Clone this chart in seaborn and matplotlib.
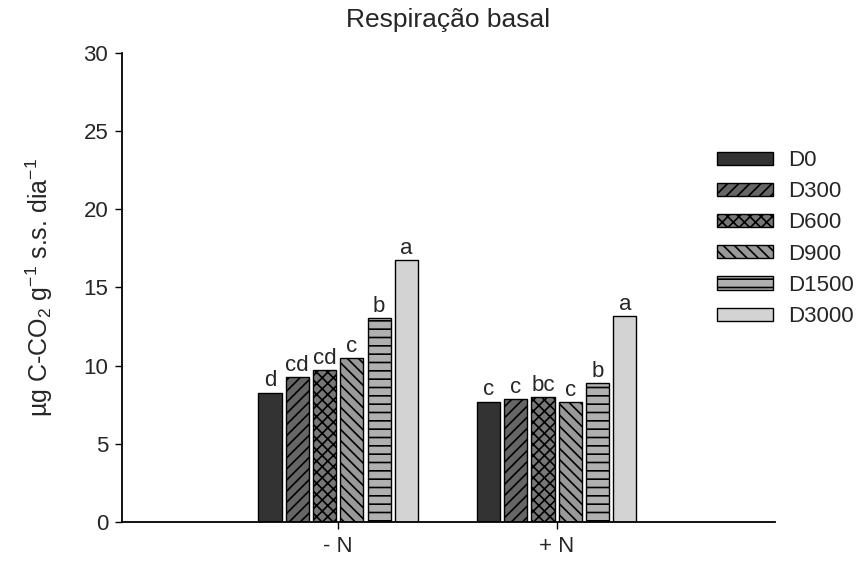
import matplotlib
matplotlib.use("Agg")
import matplotlib.pyplot as plt
import seaborn as sns
import pandas as pd

# Basal respiration by nitrogen treatment and dose
nitrogen = ["- N", "+ N"]
doses = ["D0", "D300", "D600", "D900", "D1500", "D3000"]
resp_minus_n = [8.27, 9.26, 9.72, 10.47, 13.03, 16.76]
resp_plus_n = [7.70, 7.85, 8.00, 7.68, 8.89, 13.18]
letters_minus_n = ["d", "cd", "cd", "c", "b", "a"]
letters_plus_n = ["c", "c", "bc", "c", "b", "a"]

colors = ["#333333", "#666666", "#777777", "#999999", "#b0b0b0", "#d3d3d3"]
hatches = ["", "///", "xxx", "\\\\\\", "--", ""]

rows = []
for d, v in zip(doses, resp_minus_n):
    rows.append({"N": nitrogen[0], "dose": d, "resp": v})
for d, v in zip(doses, resp_plus_n):
    rows.append({"N": nitrogen[1], "dose": d, "resp": v})
df = pd.DataFrame(rows)

sns.set_theme(style="ticks")
plt.rcParams["font.family"] = ["Liberation Sans", "DejaVu Sans"]
plt.rcParams["mathtext.fontset"] = "custom"
plt.rcParams["mathtext.rm"] = "Liberation Sans"
plt.rcParams["mathtext.it"] = "Liberation Sans"
plt.rcParams["hatch.linewidth"] = 1.2
plt.rcParams["hatch.color"] = "black"

fig = plt.figure(figsize=(8.57, 5.66), dpi=100)
ax = fig.add_axes([0.1424, 0.0777, 0.9043 - 0.1424, 0.9064 - 0.0777])

sns.barplot(data=df, x="N", y="resp", hue="dose", order=nitrogen,
            hue_order=doses, palette=colors, edgecolor="black",
            linewidth=1.0, width=0.75, gap=0.15, legend=False,
            errorbar=None, ax=ax)

for cont, h in zip(ax.containers, hatches):
    for bar in cont:
        bar.set_hatch(h)
        bar.set_edgecolor("black")

# significance letters above each bar
for i, cont in enumerate(ax.containers):
    labs = [letters_minus_n[i], letters_plus_n[i]]
    for bar, lab in zip(cont, labs):
        ax.annotate(lab, (bar.get_x() + bar.get_width() / 2, bar.get_height()),
                    xytext=(0, 1), textcoords="offset points",
                    ha="center", va="bottom", fontsize=16)

ax.set_xlim(-0.99, 2.0)
ax.set_ylim(0, 30)
ax.set_yticks(range(0, 31, 5))
ax.tick_params(axis="both", labelsize=16, direction="out", length=5,
               width=1, color="black", pad=5)
ax.set_xlabel("")
ax.set_ylabel(r"µg C-CO$_\mathrm{2}$ g$^\mathrm{-1}$ s.s. dia$^\mathrm{-1}$",
              fontsize=18, labelpad=20)
ax.set_title("Respiração basal", fontsize=19, pad=19)
sns.despine(ax=ax)
for s in ["left", "bottom"]:
    ax.spines[s].set_linewidth(1.3)
    ax.spines[s].set_color("black")

fig.legend(handles=ax.containers, labels=doses, loc="upper left",
           bbox_to_anchor=(717 / 857, 1 - 150 / 566), frameon=False,
           fontsize=16, handlelength=2.5, handleheight=0.54,
           labelspacing=0.46, handletextpad=0.68, borderpad=0,
           borderaxespad=0)

fig.savefig("out.png", dpi=100)
